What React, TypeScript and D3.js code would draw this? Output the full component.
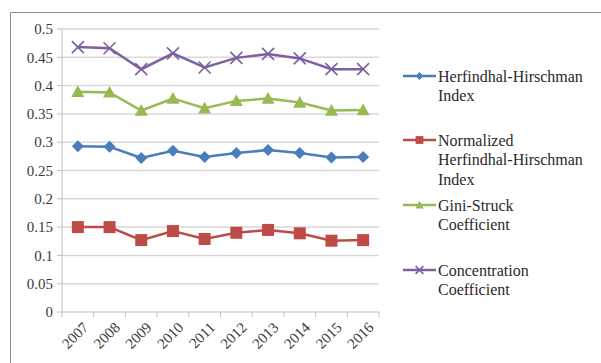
import React from "react";
import * as d3 from "d3";

const years = ["2007","2008","2009","2010","2011","2012","2013","2014","2015","2016"];
const hhi = [0.293,0.292,0.272,0.285,0.274,0.281,0.286,0.281,0.273,0.274];
const nhhi = [0.150,0.150,0.127,0.143,0.129,0.140,0.145,0.139,0.126,0.127];
const gini = [0.389,0.388,0.356,0.377,0.360,0.373,0.377,0.370,0.356,0.357];
const conc = [0.468,0.466,0.429,0.457,0.432,0.449,0.456,0.448,0.429,0.429];
const yTicks = [0,0.05,0.1,0.15,0.2,0.25,0.3,0.35,0.4,0.45,0.5];
const legendLabels = [
  ["Herfindhal-Hirschman","Index"],
  ["Normalized","Herfindhal-Hirschman","Index"],
  ["Gini-Struck","Coefficient"],
  ["Concentration","Coefficient"],
];

const colors = ["#4a7ebb","#be4b48","#98b954","#7d60a0"];
const shapes = ["diamond","square","triangle","x"];
const seriesData = [hhi, nhhi, gini, conc];

function Marker({ shape, x, y, color, s = 1 }: any) {
  if (shape === "diamond") {
    const r = 6 * s;
    return <path d={`M${x},${y - r}L${x + r},${y}L${x},${y + r}L${x - r},${y}Z`} fill={color} />;
  }
  if (shape === "square") {
    const r = 6 * s;
    return <rect x={x - r} y={y - r} width={2 * r} height={2 * r} fill={color} />;
  }
  if (shape === "triangle") {
    const r = 6.5 * s;
    return <path d={`M${x},${y - r}L${x + r},${y + r * 0.8}L${x - r},${y + r * 0.8}Z`} fill={color} />;
  }
  const r = 6 * s;
  return (
    <g stroke={color} strokeWidth={1.6}>
      <line x1={x - r} y1={y - r} x2={x + r} y2={y + r} />
      <line x1={x - r} y1={y + r} x2={x + r} y2={y - r} />
    </g>
  );
}

export default function App() {
  const left = 62, right = 379, top = 29, bottom = 312;
  const x = d3.scaleBand<string>().domain(years).range([left, right]);
  const y = d3.scaleLinear().domain([0, 0.5]).range([bottom, top]);
  const line = d3.line<number>().x((_, i) => x(years[i])! + x.bandwidth() / 2).y((d) => y(d));
  const font = "Liberation Serif, DejaVu Serif, Times New Roman, serif";
  const legendY = [76, 140, 205, 270];

  return (
    <svg width={601} height={363} style={{ position: "absolute", left: 0, top: 0, fontFamily: font }}>
      <rect x={0} y={0} width={601} height={363} fill="#fff" />
      <path d="M10.5,363V12.5H601" fill="none" stroke="#8c8c8c" strokeWidth={1} />
      {yTicks.map((t) => (
        <g key={t}>
          {t > 0 && <line x1={left} x2={right} y1={y(t)} y2={y(t)} stroke="#d9d9d9" strokeWidth={1.5} />}
          <line x1={left - 5} x2={left} y1={y(t)} y2={y(t)} stroke="#bfbfbf" />
          <text x={left - 9} y={y(t)} dy="0.35em" textAnchor="end" fontSize={15} fill="#3a3a3a"
            style={{ fontFamily: font }}>
            {d3.format("")(t)}
          </text>
        </g>
      ))}
      <line x1={left} x2={left} y1={top} y2={bottom} stroke="#bfbfbf" />
      <line x1={left} x2={right} y1={bottom} y2={bottom} stroke="#bfbfbf" />
      {years.map((yr) => (
        <line key={yr} x1={x(yr)!} x2={x(yr)!} y1={bottom} y2={bottom + 5} stroke="#bfbfbf" />
      ))}
      <line x1={right} x2={right} y1={bottom} y2={bottom + 5} stroke="#bfbfbf" />
      {years.map((yr) => {
        const cx = x(yr)! + x.bandwidth() / 2 + 4;
        const cy = bottom + 9;
        return (
          <text key={yr} x={cx} y={cy} textAnchor="end" dy="0.7em" fontSize={15} fill="#3a3a3a"
            style={{ fontFamily: font }} transform={`rotate(-45,${cx},${cy})`}>
            {yr}
          </text>
        );
      })}
      {seriesData.map((s, k) => (
        <g key={k}>
          <path d={line(s)!} fill="none" stroke={colors[k]} strokeWidth={2.5} />
          {s.map((v, i) => (
            <Marker key={i} shape={shapes[k]} x={x(years[i])! + x.bandwidth() / 2} y={y(v)} color={colors[k]} />
          ))}
        </g>
      ))}
      {legendLabels.map((lines, k) => (
        <g key={k}>
          <line x1={403} x2={436} y1={legendY[k]} y2={legendY[k]} stroke={colors[k]} strokeWidth={2.5} />
          <Marker shape={shapes[k]} x={419.5} y={legendY[k]} color={colors[k]} s={0.65} />
          {lines.map((l, j) => (
            <text key={j} x={438} y={legendY[k] + j * 19.5} dy="0.35em" fontSize={16} fill="#2a2a2a"
              style={{ fontFamily: font }}>
              {l}
            </text>
          ))}
        </g>
      ))}
    </svg>
  );
}
